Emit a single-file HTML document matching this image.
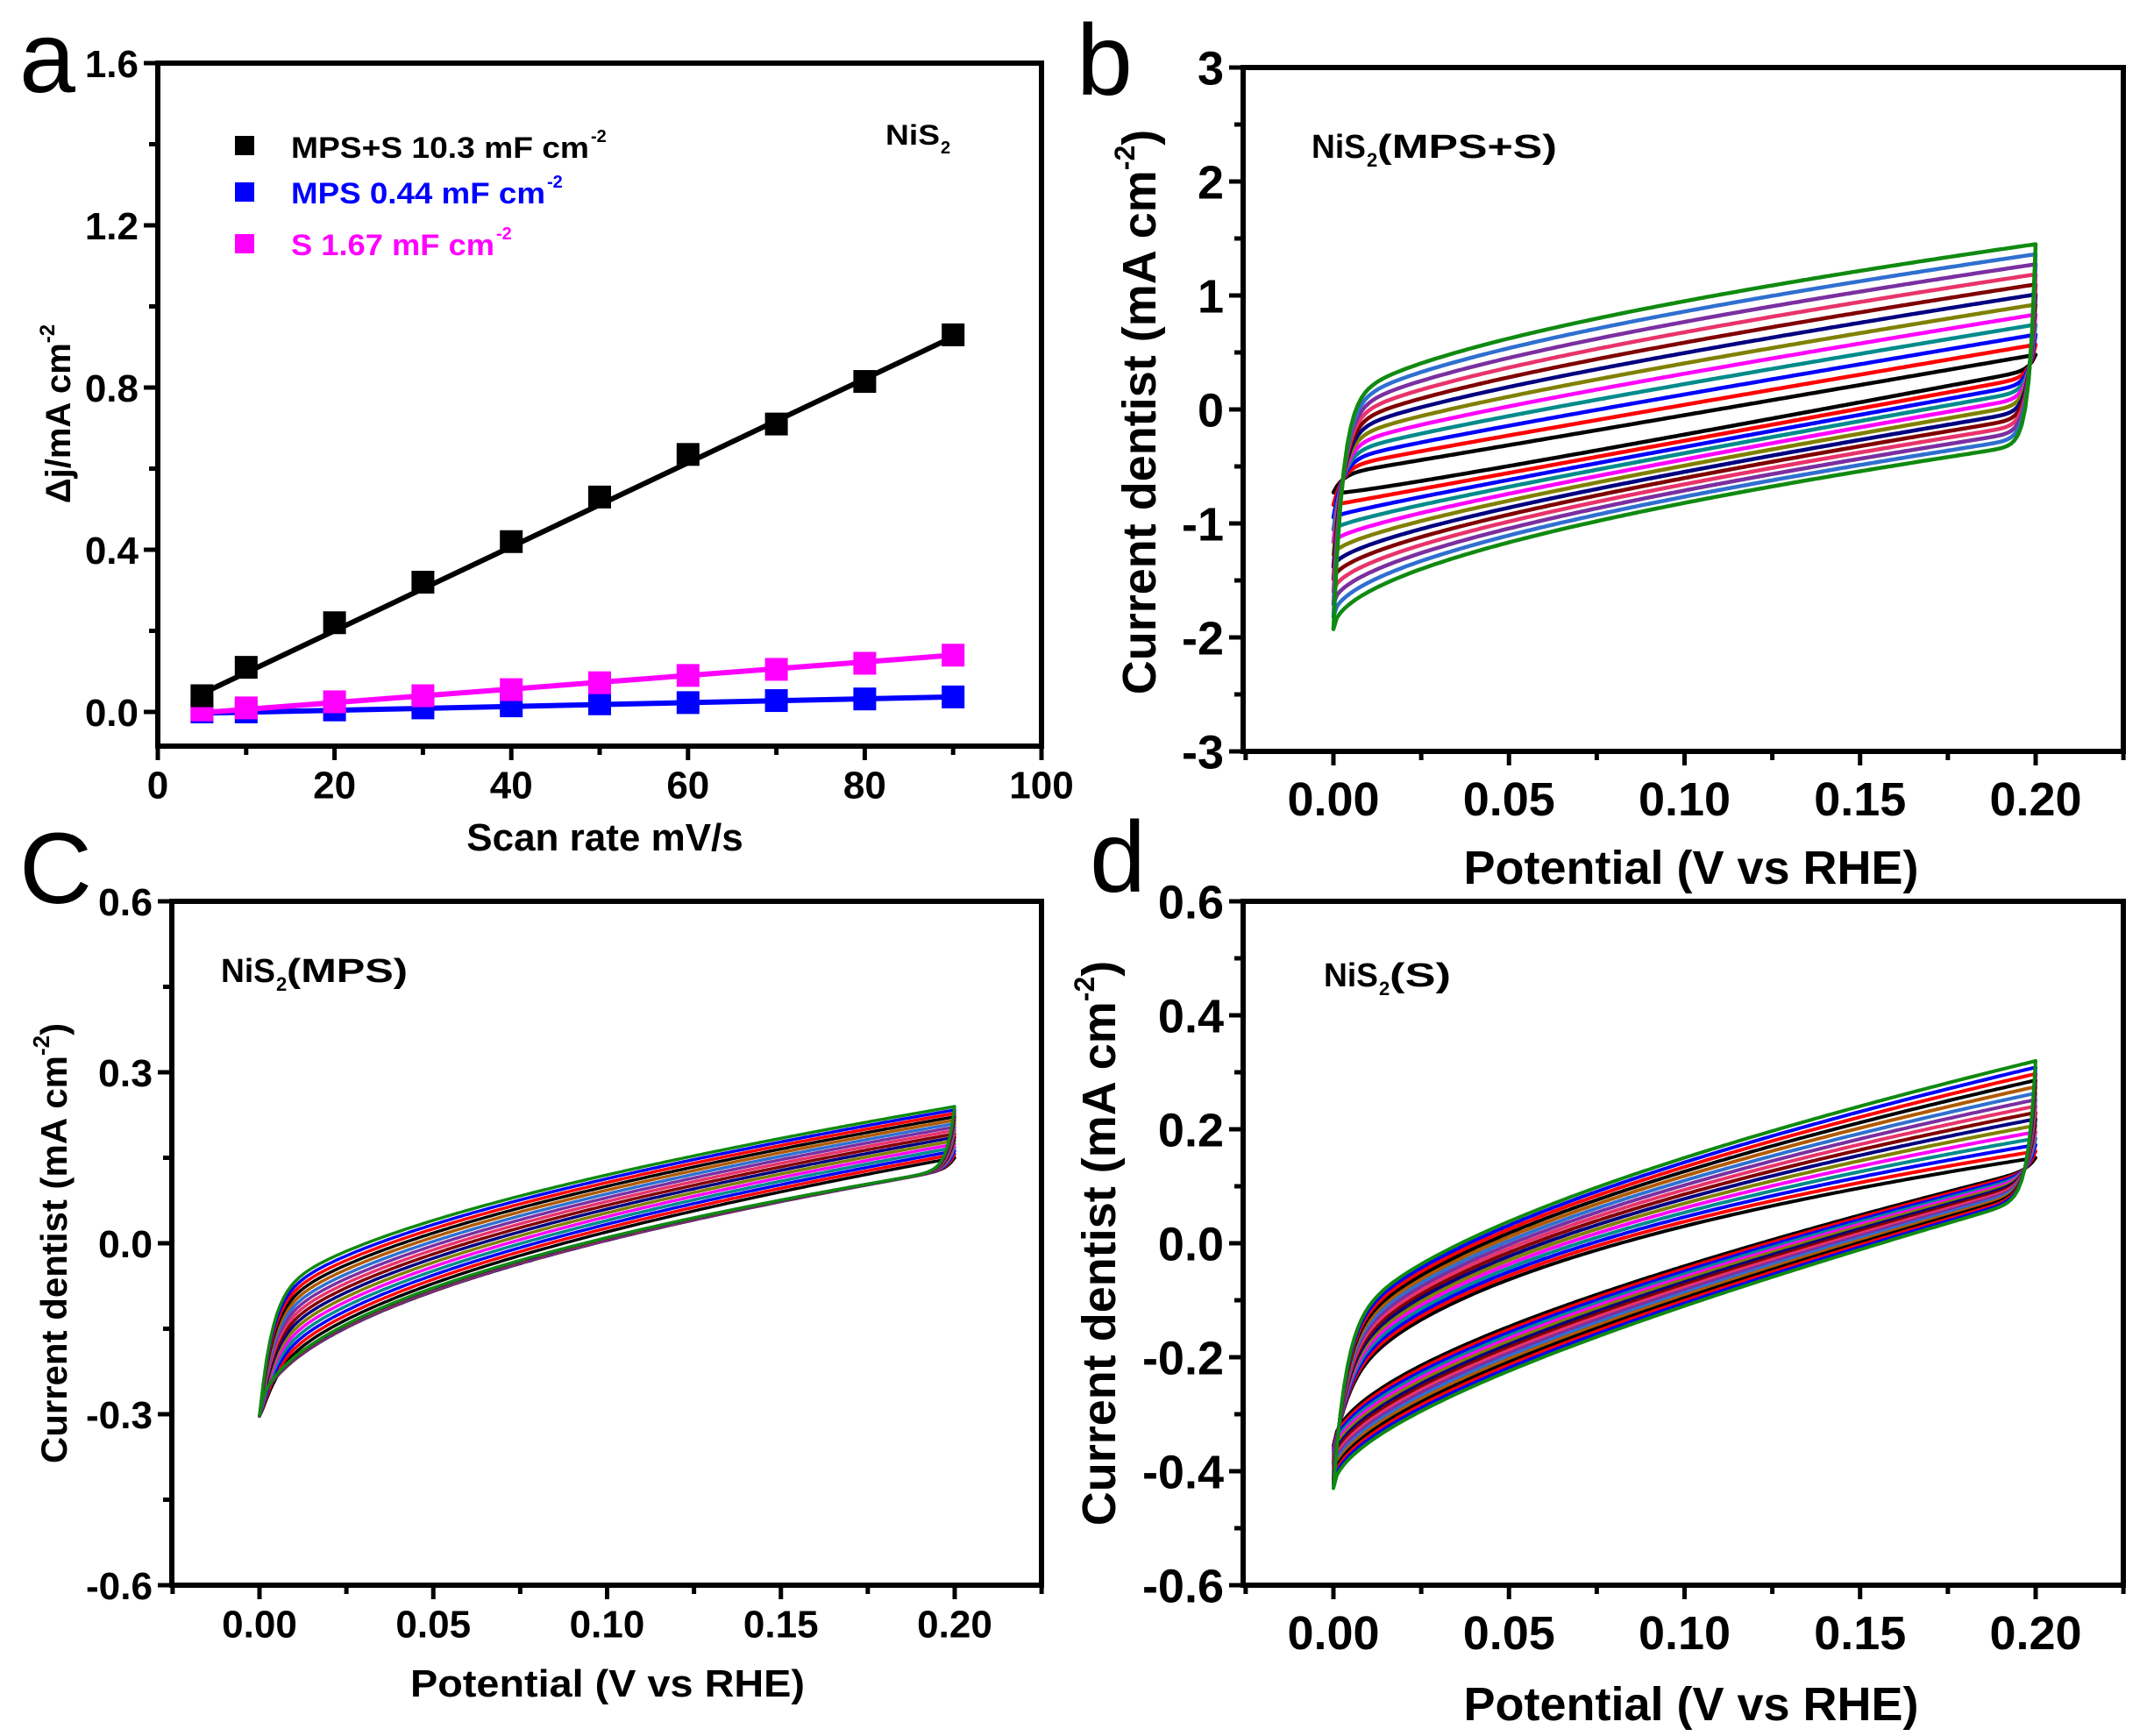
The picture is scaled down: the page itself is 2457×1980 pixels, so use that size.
<!DOCTYPE html>
<html><head><meta charset="utf-8">
<style>
html,body{margin:0;padding:0;background:#fff;}
svg{display:block;}
text{font-family:"Liberation Sans",Arial,sans-serif;}
</style></head>
<body>
<svg id="s" xmlns="http://www.w3.org/2000/svg" width="2457" height="1980" viewBox="0 0 2457 1980">
<rect width="2457" height="1980" fill="#fff"/>
<text x="22" y="105" font-size="115">a</text>
<text x="1228" y="108" font-size="115">b</text>
<text x="22" y="1030" font-size="115">C</text>
<text x="1243" y="1017" font-size="115">d</text>

<rect x="268" y="155" width="22" height="22" fill="#000"/>
<rect x="268" y="208" width="22" height="22" fill="#0000ff"/>
<rect x="268" y="267" width="22" height="22" fill="#ff00ff"/>
<text x="332" y="180" font-size="34" font-weight="bold" fill="#000" textLength="340" lengthAdjust="spacingAndGlyphs">MPS+S  10.3 mF cm</text><text x="674" y="162" font-size="20" font-weight="bold">-2</text>
<text x="332" y="232" font-size="34" font-weight="bold" fill="#0000ff" textLength="290" lengthAdjust="spacingAndGlyphs">MPS 0.44 mF cm</text><text x="624" y="214" font-size="20" font-weight="bold" fill="#0000ff">-2</text>
<text x="332" y="291" font-size="34" font-weight="bold" fill="#ff00ff" textLength="232" lengthAdjust="spacingAndGlyphs">S 1.67 mF cm</text><text x="566" y="273" font-size="20" font-weight="bold" fill="#ff00ff">-2</text>
<text x="1010" y="165" font-size="32" font-weight="bold" textLength="62" lengthAdjust="spacingAndGlyphs">NiS</text><text x="1073" y="175" font-size="20" font-weight="bold">2</text>

<text transform="translate(80,472) rotate(-90)" text-anchor="middle" font-size="40" font-weight="bold">Δj/mA cm<tspan font-size="24" dy="-18">-2</tspan></text>
<text x="690" y="970" text-anchor="middle" font-size="44" font-weight="bold">Scan rate mV/s</text>

<text x="1496" y="180" font-size="38" font-weight="bold" textLength="62" lengthAdjust="spacingAndGlyphs">NiS</text><text x="1559" y="190" font-size="22" font-weight="bold">2</text><text x="1571" y="180" font-size="38" font-weight="bold" textLength="205" lengthAdjust="spacingAndGlyphs">(MPS+S)</text>
<text transform="translate(1318,470) rotate(-90)" text-anchor="middle" font-size="54" font-weight="bold">Current dentist (mA cm<tspan font-size="32" dy="-24">-2</tspan><tspan dy="24">)</tspan></text>
<text x="1929" y="1008" text-anchor="middle" font-size="54" font-weight="bold">Potential (V  vs RHE)</text>

<text x="252" y="1120" font-size="38" font-weight="bold" textLength="62" lengthAdjust="spacingAndGlyphs">NiS</text><text x="315" y="1130" font-size="22" font-weight="bold">2</text><text x="327" y="1120" font-size="38" font-weight="bold" textLength="138" lengthAdjust="spacingAndGlyphs">(MPS)</text>
<text transform="translate(76,1418) rotate(-90)" text-anchor="middle" font-size="42" font-weight="bold">Current dentist (mA cm<tspan font-size="26" dy="-20">-2</tspan><tspan dy="20">)</tspan></text>
<text x="693" y="1935" text-anchor="middle" font-size="44" font-weight="bold" textLength="450" lengthAdjust="spacingAndGlyphs">Potential (V  vs RHE)</text>

<text x="1510" y="1125" font-size="38" font-weight="bold" textLength="62" lengthAdjust="spacingAndGlyphs">NiS</text><text x="1573" y="1135" font-size="22" font-weight="bold">2</text><text x="1585" y="1125" font-size="38" font-weight="bold" textLength="70" lengthAdjust="spacingAndGlyphs">(S)</text>
<text transform="translate(1272,1418) rotate(-90)" text-anchor="middle" font-size="54" font-weight="bold">Current dentist (mA cm<tspan font-size="32" dy="-24">-2</tspan><tspan dy="24">)</tspan></text>
<text x="1929" y="1962" text-anchor="middle" font-size="54" font-weight="bold">Potential (V  vs RHE)</text>

<g id="g"></g>
</svg>
<script>
const NS='http://www.w3.org/2000/svg';
const G=document.getElementById('g');
function el(t,a,txt){const e=document.createElementNS(NS,t);for(const k in a)e.setAttribute(k,a[k]);if(txt!==undefined)e.textContent=txt;G.appendChild(e);return e;}

function axes(p){
  const T=16,t=10;
  p.xt.forEach(v=>{const X=p.X(v);el('line',{x1:X,y1:p.y1,x2:X,y2:p.y1+T,stroke:'#000','stroke-width':5});
    el('text',{x:X,y:p.y1+p.fs*1.35,'text-anchor':'middle','font-size':p.fs,'font-weight':'bold'},p.xf(v));});
  p.xm.forEach(v=>{const X=p.X(v);el('line',{x1:X,y1:p.y1,x2:X,y2:p.y1+t,stroke:'#000','stroke-width':5});});
  p.yt.forEach(v=>{const Y=p.Y(v);el('line',{x1:p.x0-T,y1:Y,x2:p.x0,y2:Y,stroke:'#000','stroke-width':5});
    const a={x:p.x0-T-6,y:Y+p.fs*0.36,'text-anchor':'end','font-size':p.fs,'font-weight':'bold'};
    if(p.ytl){a.textLength=p.ytl(v);a.lengthAdjust='spacingAndGlyphs';}
    el('text',a,p.yf(v));});
  p.ym.forEach(v=>{const Y=p.Y(v);el('line',{x1:p.x0-t,y1:Y,x2:p.x0,y2:Y,stroke:'#000','stroke-width':5});});
  el('rect',{x:p.x0,y:p.y0,width:p.x1-p.x0,height:p.y1-p.y0,fill:'none',stroke:'#000','stroke-width':6});
}

const Xa=v=>180+v*10.08, Ya=v=>812-v*462.5;
axes({x0:180,x1:1188,y0:72,y1:851,X:Xa,Y:Ya,fs:44,
  xt:[0,20,40,60,80,100],xm:[10,30,50,70,90],xf:v=>String(v),
  yt:[0,0.4,0.8,1.2,1.6],ym:[0.2,0.6,1.0,1.4],yf:v=>v.toFixed(1)});
const xs=[5,10,20,30,40,50,60,70,80,90];
const sets=[
 {c:'#0000ff',y:[0.0,0.0,0.005,0.01,0.015,0.02,0.023,0.028,0.032,0.037],l:[-0.003,0.037]},
 {c:'#ff00ff',y:[0.005,0.01,0.025,0.04,0.055,0.072,0.09,0.105,0.12,0.14],l:[-0.002,0.14]},
 {c:'#000',y:[0.04,0.11,0.22,0.32,0.42,0.53,0.635,0.71,0.815,0.93],l:[0.045,0.925]}
];
sets.forEach(s=>{
  el('line',{x1:Xa(5),y1:Ya(s.l[0]),x2:Xa(90),y2:Ya(s.l[1]),stroke:s.c,'stroke-width':6});
  xs.forEach((x,i)=>el('rect',{x:Xa(x)-13,y:Ya(s.y[i])-13,width:26,height:26,fill:s.c}));
});

const PX=[0.01,0.1,0.2];
function fit(ys){
  const M=PX.map(x=>[1,x,Math.sqrt(x)]);
  const det=m=>m[0][0]*(m[1][1]*m[2][2]-m[1][2]*m[2][1])-m[0][1]*(m[1][0]*m[2][2]-m[1][2]*m[2][0])+m[0][2]*(m[1][0]*m[2][1]-m[1][1]*m[2][0]);
  const D=det(M);const r=[];
  for(let c=0;c<3;c++){const m=M.map((row,i)=>row.map((v,j)=>j==c?ys[i]:v));r.push(det(m)/D);}
  return x=>r[0]+r[1]*x+r[2]*Math.sqrt(Math.max(x,0));
}
const PAL=['#000000','#ff0000','#0000ff','#008b8b','#ff00ff','#808000','#000080','#800000','#e8336b','#7b2fa0','#2f6fd0','#b05a00'];
function cv(X,Y,n,Ui,Uo,Li,Lo,tau,sw){
  for(let i=0;i<n;i++){
    const s=i/(n-1);
    const U=fit(PX.map((_,k)=>Ui[k]+(Uo[k]-Ui[k])*s)), L=fit(PX.map((_,k)=>Li[k]+(Lo[k]-Li[k])*s));
    const L0=L(0), U1=U(0.2);
    let d='';
    for(let j=0;j<=200;j++){const x=0.2*j/200;const y=L0+(U(x)-L0)*(1-Math.exp(-x/tau));d+=(j?'L':'M')+X(x).toFixed(1)+' '+Y(y).toFixed(1);}
    for(let j=200;j>=0;j--){const x=0.2*j/200;const y=U1+(L(x)-U1)*(1-Math.exp(-(0.2-x)/(tau*0.7)));d+='L'+X(x).toFixed(1)+' '+Y(y).toFixed(1);}
    const col=i==n-1?'#108a10':PAL[i%PAL.length];
    el('path',{d:d+'Z',fill:'none',stroke:col,'stroke-width':sw,'stroke-linejoin':'round'});
  }
}

const Xb=v=>1521+v*4005, Yb=v=>467-v*130;
cv(Xb,Yb,12,[-0.52,-0.05,0.48],[0.22,0.95,1.45],[-0.7,-0.22,0.35],[-1.6,-0.82,-0.3],0.0025,4.5);
axes({x0:1418,x1:2422,y0:77,y1:857,X:Xb,Y:Yb,fs:54,
  xt:[0,0.05,0.1,0.15,0.2],xm:[-0.025,0.025,0.075,0.125,0.175,0.225],xf:v=>v.toFixed(2),
  yt:[-3,-2,-1,0,1,2,3],ym:[-2.5,-1.5,-0.5,0.5,1.5,2.5],yf:v=>String(v)});

const Xc=v=>296+v*3965, Yc=v=>1418-v*650;
cv(Xc,Yc,16,[-0.19,0.02,0.15],[-0.06,0.12,0.24],[-0.205,0.005,0.13],[-0.2,0.01,0.13],0.003,3.5);
axes({x0:196,x1:1188,y0:1028,y1:1808,X:Xc,Y:Yc,fs:44,
  xt:[0,0.05,0.1,0.15,0.2],xm:[-0.025,0.025,0.075,0.125,0.175,0.225],xf:v=>v.toFixed(2),
  yt:[-0.6,-0.3,0,0.3,0.6],ym:[-0.45,-0.15,0.15,0.45],yf:v=>v.toFixed(1),
  ytl:v=>v<0?76:62});

const Xd=v=>1521+v*4005, Yd=v=>1418-v*650;
cv(Xd,Yd,16,[-0.2,0.03,0.15],[-0.1,0.15,0.32],[-0.27,-0.04,0.13],[-0.35,-0.11,0.08],0.003,4);
axes({x0:1418,x1:2422,y0:1028,y1:1808,X:Xd,Y:Yd,fs:54,
  xt:[0,0.05,0.1,0.15,0.2],xm:[-0.025,0.025,0.075,0.125,0.175,0.225],xf:v=>v.toFixed(2),
  yt:[-0.6,-0.4,-0.2,0,0.2,0.4,0.6],ym:[-0.5,-0.3,-0.1,0.1,0.3,0.5],yf:v=>v.toFixed(1)});
</script>
</body></html>
